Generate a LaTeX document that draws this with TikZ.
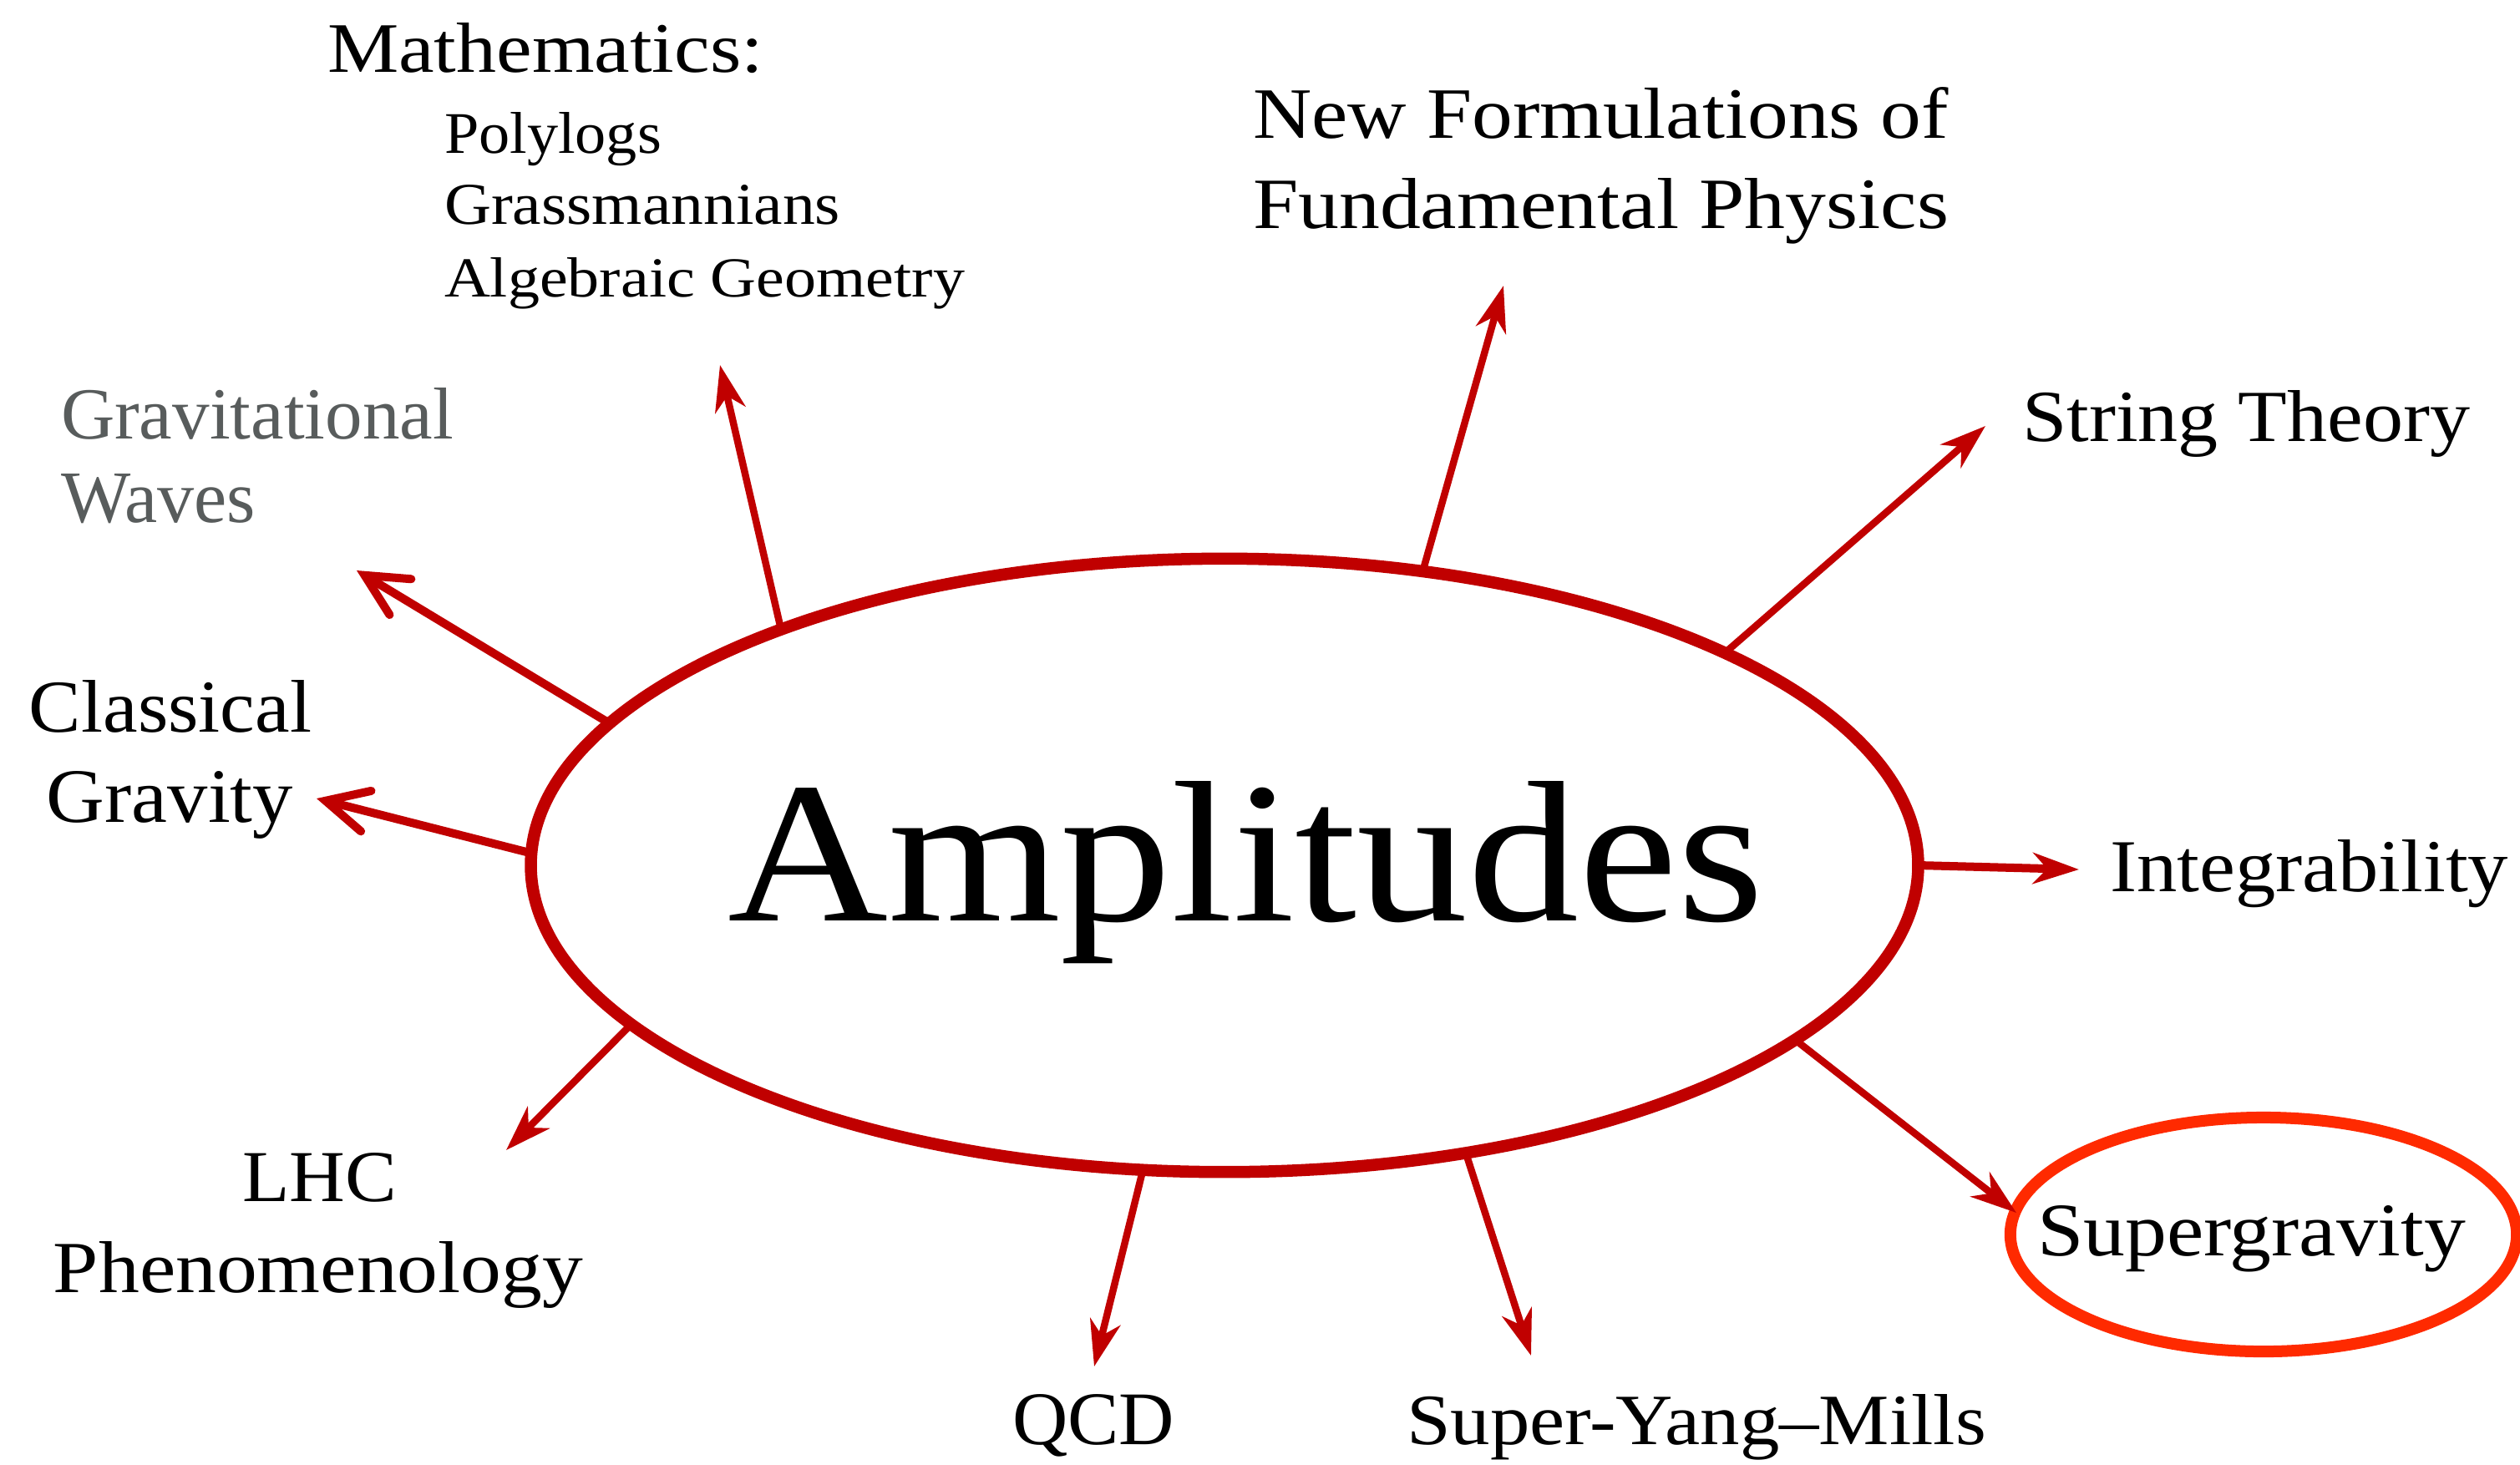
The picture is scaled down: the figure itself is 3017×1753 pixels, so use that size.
\documentclass[tikz,border=0pt]{standalone}
\usepackage{fontspec}
\setmainfont{Liberation Serif}
\usetikzlibrary{shapes.geometric,arrows.meta}
\definecolor{ampred}{HTML}{C00000}
\definecolor{hilite}{HTML}{FF2A00}
\definecolor{gwgray}{HTML}{585C5C}
\newdimen\pxu \pxu=0.01cm
\newcommand{\fitlbl}[3]{\resizebox{#1\pxu}{#2\pxu}{#3}}
\tikzset{
  lbl/.style={anchor=base west, inner sep=0pt, outer sep=0pt},
  ray/.style={draw=ampred, line width=0.085cm,
    -{Stealth[length=0.55cm,width=0.37cm,inset=0.17cm]}},
  thickray/.style={ray, line width=0.1cm},
  barbray/.style={draw=ampred, line width=0.1cm,
    -{Straight Barb[length=0.5cm,width=0.5cm,line cap=round]}},
}
\begin{document}
\begin{tikzpicture}[x=0.01cm,y=-0.01cm]
\useasboundingbox (0,0) rectangle (3017,1753);
% central ellipse
\node[ellipse, draw=ampred, line width=0.145cm, inner sep=0pt, outer sep=0pt,
      minimum width=16.6cm, minimum height=7.34cm] (amp) at (1466,1036) {};
\node[lbl] (amptxt) at (871,1102) {\fitlbl{1241}{167}{Amplitudes}};

% labels
\node[lbl] (math) at (392,86) {\fitlbl{522}{59}{Mathematics:}};
\node[lbl] (poly) at (532,183) {\fitlbl{260}{49}{Polylogs}};
\node[lbl] (grass) at (532,268) {\fitlbl{474}{47}{Grassmannians}};
\node[lbl] (alg) at (532,355) {\fitlbl{623}{47}{Algebraic Geometry}};
\node[lbl, text=gwgray] (gw1) at (73,525) {\fitlbl{470}{61}{Gravitational}};
\node[lbl, text=gwgray] (gw2) at (73,625) {\fitlbl{233}{58}{Waves}};
\node[lbl] (nf1) at (1500,165) {\fitlbl{833}{61}{New Formulations of}};
\node[lbl] (nf2) at (1500,273) {\fitlbl{833}{60}{Fundamental Physics}};
\node[lbl] (st) at (2421,528) {\fitlbl{536}{61}{String Theory}};
\node[lbl] (cg1) at (35,876) {\fitlbl{338}{62}{Classical}};
\node[lbl] (cg2) at (56,984) {\fitlbl{295}{61}{Gravity}};
\node[lbl] (integ) at (2526,1067) {\fitlbl{477}{62}{Integrability}};
\node[lbl] (lhc1) at (290,1438) {\fitlbl{185}{58}{LHC}};
\node[lbl] (lhc2) at (64,1547) {\fitlbl{634}{61}{Phenomenology}};
\node[lbl] (qcd) at (1212,1729) {\fitlbl{194}{60}{QCD}};
\node[lbl] (sym) at (1684,1729) {\fitlbl{694}{60}{Super-Yang--Mills}};
\node[lbl] (sugra) at (2439,1503) {\fitlbl{513}{60}{Supergravity}};
\node[ellipse, draw=hilite, line width=0.14cm, inner sep=0pt,
      minimum width=6.06cm, minimum height=2.8cm] (sgring) at (2710,1478) {};

% arrow tips
\coordinate (tgw) at (427,683);
\coordinate (tcg) at (379,956);
\coordinate (tmath) at (862,437);
\coordinate (tnf) at (1800,342);
\coordinate (tst) at (2377,510);
\coordinate (tint) at (2489,1041);
\coordinate (tsg) at (2414,1452);
\coordinate (tsym) at (1833,1623);
\coordinate (tqcd) at (1310,1636);
\coordinate (tlhc) at (606,1377);

% connectors
\draw[barbray] (amp.167.3) -- (tgw);
\draw[barbray] (amp.179.3) -- (tcg);
\draw[ray] (amp.152.6) -- (tmath);
\draw[ray] (amp.56.7) -- (tnf);
\draw[ray] (amp.23.9) -- (tst);
\draw[thickray] (amp.-0.35) -- (tint);
\draw[ray] (amp.-17.6) -- (tsg);
\draw[ray] (amp.-50.2) -- (tsym);
\draw[ray] (amp.-105.9) -- (tqcd);
\draw[ray] (amp.-165.8) -- (tlhc);
\end{tikzpicture}
\end{document}
